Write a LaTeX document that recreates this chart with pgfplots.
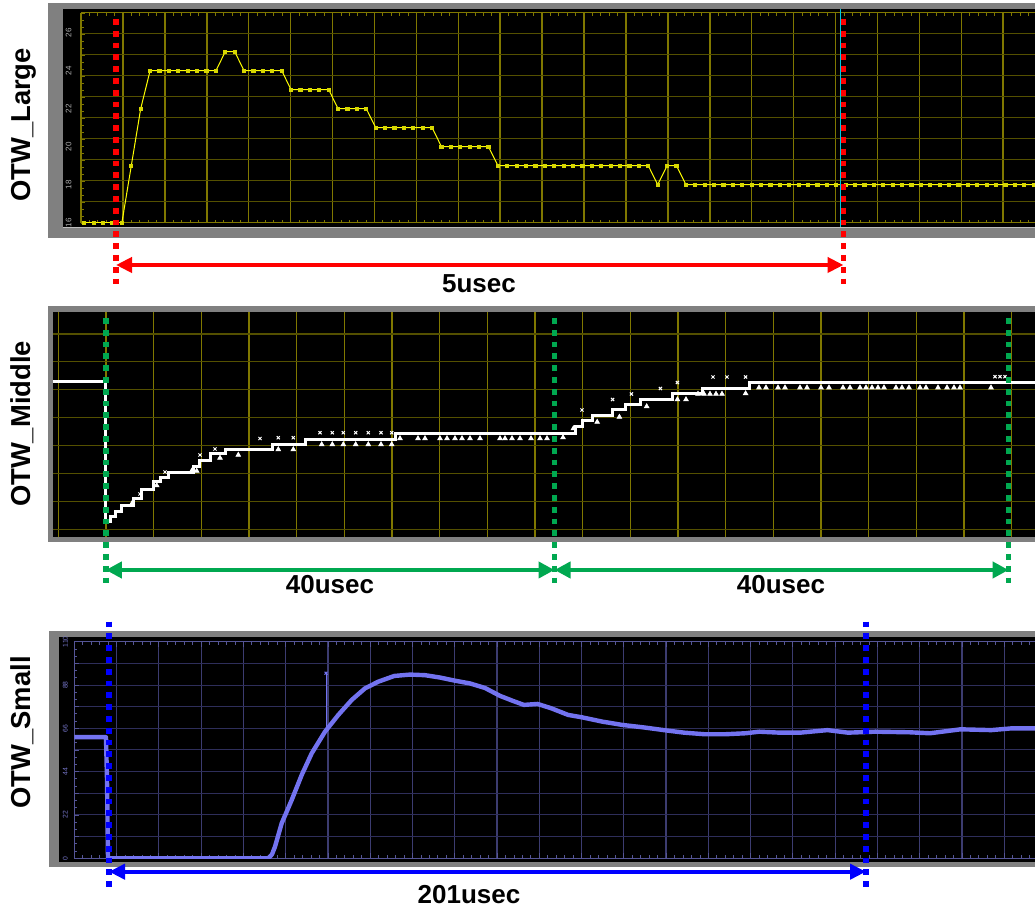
\documentclass[border=0pt]{standalone}
\usepackage{pgfplots}
\pgfplotsset{compat=1.18}
\usepackage{pgfplotstable}
\usepackage{fontspec}
\setmainfont{Liberation Sans}
\usetikzlibrary{arrows.meta}

\definecolor{frame}{RGB}{128,128,128}
\definecolor{olivev}{RGB}{128,120,0}
\definecolor{oliveh}{RGB}{84,80,0}
\definecolor{trY}{RGB}{255,255,0}
\definecolor{mkY}{RGB}{215,215,0}
\definecolor{lblY}{RGB}{175,175,175}
\definecolor{gridBv}{RGB}{60,60,112}
\definecolor{gridBh}{RGB}{46,46,90}
\definecolor{axB}{RGB}{85,85,150}
\definecolor{trB}{RGB}{115,115,240}
\definecolor{lblB}{RGB}{120,120,205}
\definecolor{annR}{RGB}{255,0,0}
\definecolor{annG}{RGB}{0,168,80}
\definecolor{annB}{RGB}{0,0,255}
\definecolor{cyanl}{RGB}{0,200,225}

% OTW_Large: sample index, value
\pgfplotstableread{
i v
0 16
1 16
2 16
3 16
4 16
5 19
6 22
7 24
8 24
9 24
10 24
11 24
12 24
13 24
14 24
15 25
16 25
17 24
18 24
19 24
20 24
21 24
22 23
23 23
24 23
25 23
26 23
27 22
28 22
29 22
30 22
31 21
32 21
33 21
34 21
35 21
36 21
37 21
38 20
39 20
40 20
41 20
42 20
43 20
44 19
45 19
46 19
47 19
48 19
49 19
50 19
51 19
52 19
53 19
54 19
55 19
56 19
57 19
58 19
59 19
60 19
61 18
62 19
63 19
64 18
65 18
66 18
67 18
68 18
69 18
70 18
71 18
72 18
73 18
74 18
75 18
76 18
77 18
78 18
79 18
80 18
81 18
82 18
83 18
84 18
85 18
86 18
87 18
88 18
89 18
90 18
91 18
92 18
93 18
94 18
95 18
96 18
97 18
98 18
99 18
100 18
101 18
102 18
}\largetab

\begin{document}
\begin{tikzpicture}
\path[use as bounding box, clip] (0pt,0pt) rectangle (517.5pt,-454pt);
\fill[white] (0pt,0pt) rectangle (517.5pt,-454pt);

\begin{scope}[x=0.5pt,y=-0.5pt]
 \fill[frame] (48,3) rectangle (1045,238);
 \fill[black] (63,9) rectangle (1045,227.5);
 \draw[line width=0.5pt, color={rgb,255:red,190;green,190;blue,190}] (63,227.5) -- (1045,227.5);
 \fill[frame] (48,306) rectangle (1045,542);
 \fill[black] (53,312.5) rectangle (1045,537);
 \fill[frame] (49,631) rectangle (1045,866.7);
 \fill[black] (59,636.7) rectangle (1045,861.7);
\end{scope}

% ---------- OTW_Large ----------
\begin{axis}[
  at={(40.5pt,-6.5pt)}, anchor=north west, scale only axis,
  width=482pt, height=105pt,
  xmin=81, xmax=1045, ymin=15.984, ymax=27.037,
  xtick={81,122.92,...,1046}, xticklabels={},
  ytick={15.984,17.0893,...,27.1}, yticklabels={},
  extra y ticks={16,18,20,22,24,26},
  extra y tick labels={16,18,20,22,24,26},
  extra y tick style={grid=none, tick style={draw=none}},
  yticklabel style={rotate=90, anchor=south, inner sep=0pt, text=lblY, font=\fontsize{4}{5}\selectfont},
  yticklabel shift=4.6pt,
  xmajorgrids, ymajorgrids,
  x grid style={olivev, line width=0.75pt},
  y grid style={oliveh, line width=0.5pt},
  axis line style={draw=olivev, line width=0.5pt},
  tick style={olivev, line width=0.4pt},
  tick align=inside, major tick length=2pt, minor tick length=1.5pt,
  minor x tick num=4, minor y tick num=2,
]
\addplot[trY, line width=0.5pt, mark=square*, mark size=0.8pt, mark options={fill=mkY, draw=mkY}]
  table[x expr=84.3+9.4*\thisrow{i}, y=v] {\largetab};
\end{axis}

% ---------- OTW_Middle ----------
\begin{axis}[
  at={(26.5pt,-156.25pt)}, anchor=north west, scale only axis,
  width=496pt, height=112.25pt,
  xmin=53, xmax=1045, ymin=312.5, ymax=537, y dir=reverse,
  xtick={58.3,105.97,...,1046}, ytick={334,361.9,...,531},
  xticklabels={}, yticklabels={},
  xmajorgrids, ymajorgrids,
  x grid style={olivev, line width=0.75pt},
  y grid style={oliveh, line width=0.6pt},
  axis line style={draw=none}, tick style={draw=none},
]
\addplot[white, line width=1.5pt, const plot] coordinates {
(53,382) (105.8,522) (110,517) (115,512) (121,506) (133,499) (141,489.5)
(153,482) (160,478) (168,472.7) (193,466.7) (199,460.7) (210,454)
(225,449.3) (272,444.3) (305,439.3) (395,433.5) (575,427) (582,421)
(592,416) (612,410) (625,405) (640,399.3) (672,394) (702,388.3)
(749,382.7) (1045,382.7)};
\addplot[only marks, mark=triangle*, mark size=1.3pt, white] coordinates {
(132.3,503) (156.7,485.5) (191.7,471) (196.7,471) (220,458) (238.3,455)
(278.3,449.5) (293.3,449.5) (321.7,444.5) (332.3,444.5) (343.3,444.5)
(355.7,444.5) (368.3,444.5) (381,444.5) (391.7,444.5)
(400,438.5) (418,438.5) (425,438.5) (440,438.5) (447,438.5) (455,438.5)
(462,438.5) (470,438.5) (480,438.5) (500,438.5) (505,438.5) (512,438.5)
(520,438.5) (531,438.5) (540,438.5) (547,438.5) (563,437.5)
(573.4,428.5) (597.2,422) (619.4,417) (646.7,406.5) (677.4,399.5)
(686,399.5) (698,394) (704,394) (710,394) (716,394) (722,394) (745.6,393.5)
(759,387.7) (766,387.7) (778,387.7) (785,387.7) (800,387.7) (807,387.7)
(821,387.7) (829,387.7) (843,387.7) (850,387.7) (860,387.7) (866,387.7)
(872,387.7) (878,387.7) (884,387.7) (896,387.7) (902,387.7) (909,387.7)
(920,387.7) (926,387.7) (938,387.7) (947,387.7) (954,387.7) (960,387.7)
(991,387.7)};
\addplot[only marks, mark=x, mark size=1.1pt, white, mark options={line width=0.5pt}] coordinates {
(140,494) (165,472) (200,455) (215,449) (260,438.5) (278.3,437.7)
(293.3,437.7) (320,432.7) (332.3,432.7) (343.3,432.7) (355.7,432.7)
(368.3,432.7) (381,432.7) (391.7,432.7) (582,410) (612.6,399.5)
(631.4,394) (660.4,388.5) (677.4,382.5) (713,377) (727,377) (745.6,377)
(995,376.7) (1000,376.7) (1005,376.7)};
\end{axis}

% ---------- OTW_Small ----------
\begin{axis}[
  at={(37.15pt,-320.85pt)}, anchor=north west, scale only axis,
  width=485.35pt, height=108.3pt,
  xmin=74.3, xmax=1045, ymin=0, ymax=110,
  xtick={74.3,116.57,...,1046}, xticklabels={},
  ytick={0,11,...,110}, yticklabels={0,,22,,44,,66,,88,,110},
  yticklabel style={rotate=90, anchor=south, inner sep=0pt, text=lblB, font=\fontsize{3.4}{4}\selectfont},
  yticklabel shift=3.1pt,
  xmajorgrids, ymajorgrids,
  x grid style={gridBv, line width=0.6pt},
  y grid style={gridBh, line width=0.5pt},
  axis line style={draw=axB, line width=0.5pt},
  tick style={axB, line width=0.4pt},
  tick align=inside, major tick length=2.5pt, minor tick length=1.5pt,
  minor x tick num=4, minor y tick num=2,
]
\addplot[trB, line width=2.2pt, line join=round] coordinates {
(74.3,61.5) (106,61.5) (107,40) (108,0) (268.3,0) (272,2) (275,5.9)
(281.7,17.8) (291.7,29.6) (301.7,42.3) (311.7,53.3) (325,64.3)
(338.3,72.8) (351.7,80.4) (365,86.3) (378.3,89.7) (394.3,92.6)
(410,93.3) (425,93) (440,91.8) (455,90.2) (470,88.8) (485,86.5)
(500,82.5) (513.6,79.8) (523.9,77.9) (537.5,78.4) (551.2,76.2)
(568.2,72.8) (581.9,71.6) (602.4,69.4) (622.8,67.7) (643.3,66.5)
(663.8,65.1) (684.2,63.8) (704.7,63.0) (725.2,63.0) (745.6,63.5)
(759.3,64.3) (779.8,63.8) (800.2,63.8) (827.5,65.1) (848,63.8)
(875.3,64.3) (909.4,64.0) (929.9,63.5) (960.6,65.5) (991.3,65.1)
(1011.8,66.0) (1045,66.0)};
\addplot[trB, line width=0.5pt, mark=x, mark size=1pt, mark repeat=2, mark phase=2] coordinates {(326,65) (326,94)};
\end{axis}

% ---------- annotations ----------
\begin{scope}[x=0.5pt,y=-0.5pt]
 \draw[cyanl, line width=0.4pt] (840,9) -- (840,227);
 % red
 \draw[annR, line width=2.9pt, dash pattern=on 2.9pt off 3pt] (116,19) -- (116,290);
 \draw[annR, line width=2.9pt, dash pattern=on 2.9pt off 3pt] (843.5,19) -- (843.5,290);
 \draw[annR, line width=2.3pt, {Triangle[length=8pt,width=7.5pt]}-{Triangle[length=8pt,width=7.5pt]}] (116,265) -- (843.5,265);
 \node[anchor=base, inner sep=0pt, font=\fontsize{13}{15}\selectfont\bfseries] at (479,292.7) {5usec};
 % green
 \draw[annG, line width=2.8pt, dash pattern=on 2.9pt off 3pt] (105.8,318) -- (105.8,588);
 \draw[annG, line width=2.8pt, dash pattern=on 2.9pt off 3pt] (554.5,318) -- (554.5,588);
 \draw[annG, line width=2.8pt, dash pattern=on 2.9pt off 3pt] (1008.6,318) -- (1008.6,588);
 \draw[annG, line width=2pt, {Triangle[length=8pt,width=8pt]}-{Triangle[length=8pt,width=8pt]}] (105.8,570) -- (554.5,570);
 \draw[annG, line width=2pt, {Triangle[length=8pt,width=8pt]}-{Triangle[length=8pt,width=8pt]}] (554.5,570) -- (1008.6,570);
 \node[anchor=base, inner sep=0pt, font=\fontsize{13}{15}\selectfont\bfseries] at (330,593.3) {40usec};
 \node[anchor=base, inner sep=0pt, font=\fontsize{13}{15}\selectfont\bfseries] at (781,593.3) {40usec};
 % blue
 \draw[annB, line width=2.7pt, dash pattern=on 2.9pt off 3pt] (109,621.7) -- (109,891);
 \draw[annB, line width=2.7pt, dash pattern=on 2.9pt off 3pt] (866,621.7) -- (866,891);
 \draw[annB, line width=2pt, {Triangle[length=8pt,width=7.5pt]}-{Triangle[length=8pt,width=7.5pt]}] (109,871.7) -- (866,871.7);
 \node[anchor=base, inner sep=0pt, font=\fontsize{13}{15}\selectfont\bfseries] at (469,904) {201usec};
 % panel names
 \node[rotate=90, anchor=base, inner sep=0pt, font=\fontsize{13.7}{16}\selectfont\bfseries] at (31,125) {OTW\_Large};
 \node[rotate=90, anchor=base, inner sep=0pt, font=\fontsize{13.7}{16}\selectfont\bfseries] at (31,424) {OTW\_Middle};
 \node[rotate=90, anchor=base, inner sep=0pt, font=\fontsize{13.7}{16}\selectfont\bfseries] at (31,732.5) {OTW\_Small};
\end{scope}
\end{tikzpicture}
\end{document}
